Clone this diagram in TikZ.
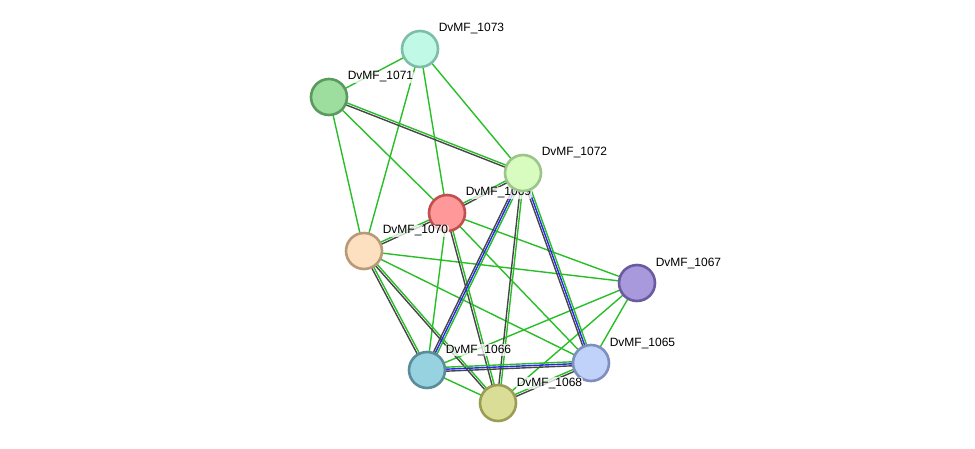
\documentclass[tikz,border=0pt]{standalone}
\usepackage{fontspec}
\setmainfont{Liberation Sans}
\usetikzlibrary{calc,backgrounds}
\definecolor{eGreen}{RGB}{40,190,40}
\definecolor{eBlack}{RGB}{70,70,70}
\definecolor{eBlue}{RGB}{40,40,235}

% one line of an evidence edge, shifted sideways by #3
\newcommand{\evline}[4]{%
  \draw[#4] ($(#1)!#3!90:(#2)$) -- ($(#2)!#3!-90:(#1)$);}
\newcommand{\edgeG}[2]{\draw[ev, eGreen] (#1) -- (#2);}
\newcommand{\edgeGK}[2]{\evline{#1}{#2}{1.1pt}{ev, eGreen}\evline{#1}{#2}{-1.1pt}{ev, eBlack}}
\newcommand{\edgeGBK}[2]{\evline{#1}{#2}{2pt}{ev, eGreen}\evline{#1}{#2}{0pt}{ev, eBlue}\evline{#1}{#2}{-2pt}{ev, eBlack}}

\begin{document}
\begin{tikzpicture}[x=1pt, y=-1pt,
    prot/.style={circle, minimum size=36pt, inner sep=0pt, line width=2.6pt},
    lbl/.style={anchor=base west, font=\fontsize{12}{14}\selectfont, text=black,
      fill=white, fill opacity=0.75, text opacity=1, inner sep=0.6pt, rounded corners=2pt},
    ev/.style={line width=1.4pt}]
    \useasboundingbox (0,0) rectangle (975,449);

    % proteins, each with its label
    \node[prot, fill={rgb,255:red,192;green,250;blue,230}, draw={rgb,255:red,125;green,190;blue,168}] (n1073) at (420,49) {};
    \node[lbl] (l1073) at ($(n1073)+(18,-17)$) {DvMF\_1073};
    \node[prot, fill={rgb,255:red,157;green,222;blue,158}, draw={rgb,255:red,90;green,154;blue,94}] (n1071) at (329,97) {};
    \node[lbl] (l1071) at ($(n1071)+(18,-17)$) {DvMF\_1071};
    \node[prot, fill={rgb,255:red,255;green,153;blue,153}, draw={rgb,255:red,192;green,80;blue,80}] (n1069) at (447,213) {};
    \node[lbl] (l1069) at ($(n1069)+(18,-17)$) {DvMF\_1069};
    \node[prot, fill={rgb,255:red,216;green,252;blue,192}, draw={rgb,255:red,156;green,197;blue,138}] (n1072) at (523,173) {};
    \node[lbl] (l1072) at ($(n1072)+(18,-17)$) {DvMF\_1072};
    \node[prot, fill={rgb,255:red,253;green,224;blue,192}, draw={rgb,255:red,184;green,154;blue,120}] (n1070) at (364,251) {};
    \node[lbl] (l1070) at ($(n1070)+(18,-17)$) {DvMF\_1070};
    \node[prot, fill={rgb,255:red,168;green,153;blue,221}, draw={rgb,255:red,106;green,90;blue,158}] (n1067) at (637,283) {};
    \node[lbl] (l1067) at ($(n1067)+(18,-17)$) {DvMF\_1067};
    \node[prot, fill={rgb,255:red,192;green,210;blue,250}, draw={rgb,255:red,126;green,142;blue,190}] (n1065) at (591,363) {};
    \node[lbl] (l1065) at ($(n1065)+(18,-17)$) {DvMF\_1065};
    \node[prot, fill={rgb,255:red,150;green,210;blue,224}, draw={rgb,255:red,90;green,140;blue,153}] (n1066) at (427,370) {};
    \node[lbl] (l1066) at ($(n1066)+(18,-17)$) {DvMF\_1066};
    \node[prot, fill={rgb,255:red,217;green,221;blue,150}, draw={rgb,255:red,154;green,158;blue,85}] (n1068) at (498,403) {};
    \node[lbl] (l1068) at ($(n1068)+(18,-17)$) {DvMF\_1068};

    \begin{scope}[on background layer]
      % green only
      \edgeG{n1073.center}{n1071.center}
      \edgeG{n1073.center}{n1072.center}
      \edgeG{n1073.center}{n1069.center}
      \edgeG{n1073.center}{n1070.center}
      \edgeG{n1071.center}{n1069.center}
      \edgeG{n1071.center}{n1070.center}
      \edgeG{n1069.center}{n1066.center}
      \edgeG{n1069.center}{n1065.center}
      \edgeG{n1069.center}{n1067.center}
      \edgeG{n1070.center}{n1065.center}
      \edgeG{n1070.center}{n1067.center}
      \edgeG{n1066.center}{n1068.center}
      \edgeG{n1066.center}{n1067.center}
      \edgeG{n1068.center}{n1067.center}
      \edgeG{n1065.center}{n1067.center}
      % green and black
      \edgeGK{n1071.center}{n1072.center}
      \edgeGK{n1069.center}{n1072.center}
      \edgeGK{n1070.center}{n1069.center}
      \edgeGK{n1070.center}{n1066.center}
      \edgeGK{n1070.center}{n1068.center}
      \edgeGK{n1069.center}{n1068.center}
      \edgeGK{n1072.center}{n1068.center}
      \edgeGK{n1068.center}{n1065.center}
      % green, blue and black
      \edgeGBK{n1072.center}{n1066.center}
      \edgeGBK{n1072.center}{n1065.center}
      \edgeGBK{n1066.center}{n1065.center}
    \end{scope}
\end{tikzpicture}
\end{document}
